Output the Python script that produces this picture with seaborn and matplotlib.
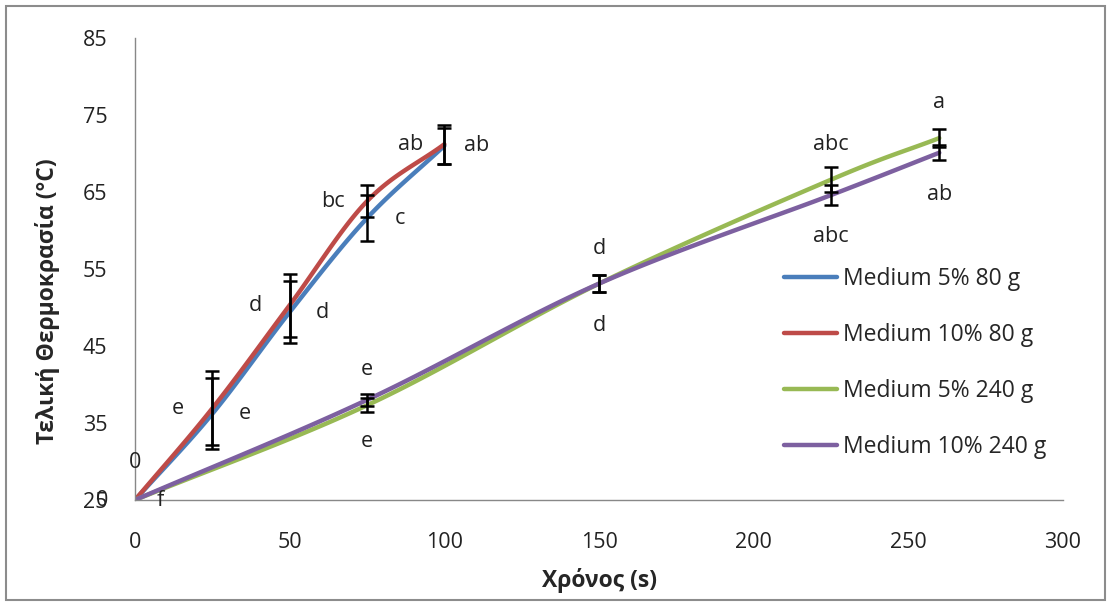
import numpy as np
import pandas as pd
import matplotlib
matplotlib.use("Agg")
import matplotlib.pyplot as plt
from matplotlib.patches import Rectangle
import seaborn as sns

# ---------------- data ----------------
series_names = ["Medium 5% 80 g", "Medium 10% 80 g", "Medium 5% 240 g", "Medium 10% 240 g"]
x_80 = [0, 25, 50, 75, 100]
x_240 = [0, 75, 150, 225, 260]
y_5_80 = [25, 36.2, 49.4, 61.6, 71.0]
y_10_80 = [25, 36.9, 50.3, 63.8, 71.2]
y_5_240 = [25, 37.3, 53.1, 66.6, 72.0]
y_10_240 = [25, 38.0, 53.1, 64.6, 70.1]
err_5_80 = [0, 4.6, 4.0, 3.0, 2.3]
err_10_80 = [0, 4.8, 4.1, 2.1, 2.5]
err_5_240 = [0, 0.9, 1.1, 1.6, 1.2]
err_10_240 = [0, 0.8, 1.1, 1.3, 1.0]
lbl_5_80 = ["0", "e", "d", "c", "ab"]
lbl_10_80 = ["0", "e", "d", "bc", "ab"]
lbl_5_240 = ["f", "e", "d", "abc", "a"]
lbl_10_240 = ["0", "e", "d", "abc", "ab"]
x_ticks = [0, 50, 100, 150, 200, 250, 300]
y_ticks = [25, 35, 45, 55, 65, 75, 85]
colors = ["#4A7EBB", "#BE4B48", "#98B954", "#7D60A0"]

xs = [x_80, x_80, x_240, x_240]
ys = [y_5_80, y_10_80, y_5_240, y_10_240]
errs = [err_5_80, err_10_80, err_5_240, err_10_240]


def smooth(x, y, n=30):
    """Catmull-Rom curve through the points (display smoothing like Excel)."""
    x = np.asarray(x, float); y = np.asarray(y, float)
    P = np.column_stack([x, y])
    P = np.vstack([P[0] - (P[1] - P[0]), P, P[-1] + (P[-1] - P[-2])])
    out = []
    for i in range(1, len(P) - 2):
        p0, p1, p2, p3 = P[i - 1], P[i], P[i + 1], P[i + 2]
        t = np.linspace(0, 1, n, endpoint=(i == len(P) - 3))[:, None]
        c = 0.5 * ((2 * p1) + (-p0 + p2) * t + (2 * p0 - 5 * p1 + 4 * p2 - p3) * t ** 2
                   + (-p0 + 3 * p1 - 3 * p2 + p3) * t ** 3)
        out.append(c)
    c = np.vstack(out)
    return c[:, 0], c[:, 1]


frames = []
for name, x, y in zip(series_names, xs, ys):
    sx, sy = smooth(x, y)
    frames.append(pd.DataFrame({"x": sx, "y": sy, "series": name, "order": np.arange(len(sx))}))
df = pd.concat(frames, ignore_index=True)

sns.set_theme(style="white")
plt.rcParams["font.family"] = ["Open Sans", "DejaVu Sans"]

fig = plt.figure(figsize=(11.13, 6.06), dpi=100)
ax = fig.add_axes([135 / 1113, 1 - 500 / 606, (1063 - 135) / 1113, (500 - 38) / 606])

sns.lineplot(data=df, x="x", y="y", hue="series", hue_order=series_names,
             palette=colors, sort=False, estimator=None, linewidth=3.2, ax=ax)

for x, y, e in zip(xs, ys, errs):
    ax.errorbar(x[1:], y[1:], yerr=e[1:], fmt="none", ecolor="black",
                elinewidth=1.8, capsize=5, capthick=1.8, zorder=5)

fs_lbl = 15.5
tc = "#222"
# labels: 5% 80 g (right), 10% 80 g (left), 5% 240 g (above), 10% 240 g (below)
for i, (xv, yv) in enumerate(zip(x_80, y_5_80)):
    if i == 0:
        ax.text(-10.5, 25, lbl_5_80[i], ha="center", va="center", fontsize=fs_lbl, color=tc, clip_on=False)
    else:
        ax.text(xv + 10.5, yv, lbl_5_80[i], ha="center", va="center", fontsize=fs_lbl, color=tc)
for i, (xv, yv) in enumerate(zip(x_80, y_10_80)):
    if i == 0:
        ax.text(0, 29.9, lbl_10_80[i], ha="center", va="center", fontsize=fs_lbl, color=tc)
    else:
        ax.text(xv - 11, yv, lbl_10_80[i], ha="center", va="center", fontsize=fs_lbl, color=tc)
for i, (xv, yv) in enumerate(zip(x_240, y_5_240)):
    if i == 0:
        ax.text(8.2, 25, lbl_5_240[i], ha="center", va="center", fontsize=fs_lbl, color=tc)
    else:
        ax.text(xv, yv + 4.6, lbl_5_240[i], ha="center", va="center", fontsize=fs_lbl, color=tc)
for i, (xv, yv) in enumerate(zip(x_240, y_10_240)):
    if i == 0:
        continue
    ax.text(xv, yv - 5.4, lbl_10_240[i], ha="center", va="center", fontsize=fs_lbl, color=tc)

ax.set_xlim(0, 300)
ax.set_ylim(25, 85)
ax.set_xticks(x_ticks)
ax.set_yticks(y_ticks)
ax.tick_params(axis="both", labelsize=15.5, colors=tc, length=7, width=1, direction="out")
ax.tick_params(axis="x", color="#888", pad=16)
ax.tick_params(axis="y", color="#888", pad=13)
sns.despine(ax=ax)
for s in ["left", "bottom"]:
    ax.spines[s].set_color("#888")
    ax.spines[s].set_linewidth(1)

ax.set_xlabel("Χρόνος (s)", fontsize=16.5, fontweight="bold")
ax.set_ylabel("Τελική Θερμοκρασία (°C)", fontsize=16.5, fontweight="bold")
ax.xaxis.set_label_coords(0.5, -0.147)
ax.yaxis.set_label_coords(-0.081, 0.43)

leg = ax.legend(loc="upper left", bbox_to_anchor=(0.69, 0.525), frameon=False, fontsize=16.5,
                handlelength=2.3, handletextpad=0.25, labelspacing=1.4, borderaxespad=0)
for h in leg.get_lines():
    h.set_linewidth(3.2)

fig.patches.append(Rectangle((6 / 1113, 6 / 606), 1 - 14 / 1113, 1 - 12 / 606,
                             transform=fig.transFigure, fill=False, edgecolor="#8c8c8c", linewidth=1.5))

fig.savefig("out.png", dpi=100)
